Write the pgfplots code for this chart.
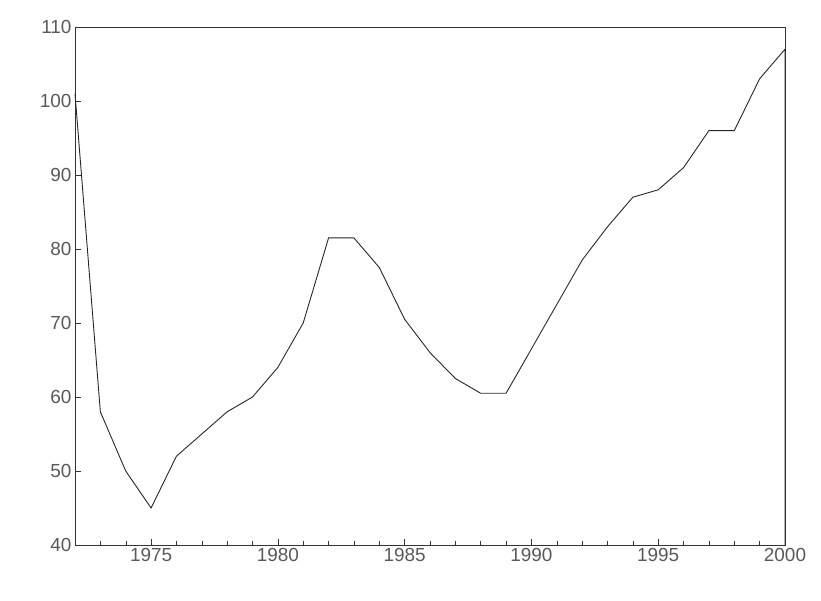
\documentclass[border=0pt]{standalone}
\usepackage{pgfplots}
\pgfplotsset{compat=1.18}
\usepackage{fontspec}
\setmainfont{Liberation Sans}
\begin{document}
\begin{tikzpicture}
\begin{axis}[scale only axis, width=710bp, height=518bp,
 xmin=1972, xmax=2000, ymin=40, ymax=110,
 xtick={1975,1980,1985,1990,1995,2000}, minor xtick={1972,...,2000},
 ytick={40,50,...,110},
 tick align=inside, tick pos=left, major tick length=6bp, minor tick length=4bp,
 xticklabel style={/pgf/number format/1000 sep={}},
 /pgf/number format/assume math mode=true,
 ticklabel style={font=\fontsize{19}{22}\selectfont, text=black!65},
 axis line style={black!80, line width=0.9pt},
 every tick/.style={black!80},
 clip=false]
\addplot[black!85, line width=0.9pt] coordinates {
(1972,101)(1973,58)(1974,50)(1975,45)(1976,52)(1977,55)(1978,58)(1979,60)
(1980,64)(1981,70)(1982,81.5)(1983,81.5)(1984,77.5)(1985,70.5)(1986,66)
(1987,62.5)(1988,60.5)(1989,60.5)(1990,66.5)(1991,72.5)(1992,78.5)(1993,83)
(1994,87)(1995,88)(1996,91)(1997,96)(1998,96)(1999,103)(2000,107)(2000,40)};
\end{axis}
\path (-75bp,-56bp) rectangle (746bp,545bp);
\end{tikzpicture}
\end{document}
